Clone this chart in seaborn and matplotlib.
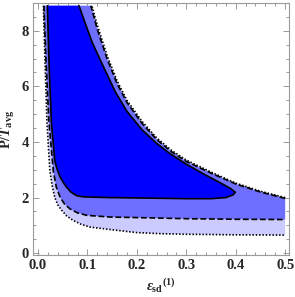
import numpy as np
import pandas as pd
import matplotlib
matplotlib.use("Agg")
import matplotlib.pyplot as plt
import seaborn as sns

# ---- contour boundaries (x = eps_sd^(1), y = P/T_avg) ----
# outer (dotted) region
outer_lo_x = [0.011, 0.014, 0.018, 0.024, 0.029, 0.034, 0.040, 0.048, 0.058, 0.071, 0.087, 0.105, 0.146, 0.200, 0.250, 0.300, 0.400, 0.500]
outer_lo_y = [8.90, 7.00, 4.75, 2.96, 2.40, 2.00, 1.74, 1.54, 1.34, 1.18, 1.04, 0.94, 0.85, 0.74, 0.70, 0.68, 0.66, 0.65]
outer_up_x = [0.500, 0.450, 0.400, 0.350, 0.300, 0.270, 0.240, 0.210, 0.180, 0.160, 0.140, 0.120, 0.109]
outer_up_y = [2.00, 2.23, 2.52, 2.92, 3.35, 3.70, 4.15, 4.75, 5.50, 6.20, 7.10, 8.20, 8.90]

# middle (dashed) region
mid_lo_x = [0.012, 0.016, 0.022, 0.031, 0.037, 0.045, 0.054, 0.065, 0.080, 0.099, 0.146, 0.227, 0.300, 0.400, 0.500]
mid_lo_y = [8.90, 7.00, 4.75, 2.96, 2.38, 2.00, 1.76, 1.59, 1.45, 1.36, 1.30, 1.27, 1.24, 1.22, 1.21]
mid_up_x = [0.500, 0.450, 0.400, 0.350, 0.300, 0.270, 0.240, 0.210, 0.180, 0.160, 0.140, 0.120, 0.107]
mid_up_y = [1.97, 2.20, 2.49, 2.88, 3.30, 3.65, 4.09, 4.68, 5.42, 6.10, 6.98, 8.05, 8.90]

# inner (solid) region
inner_lo_x = [0.019, 0.022, 0.027, 0.034, 0.039, 0.045, 0.052, 0.058, 0.067, 0.078, 0.090, 0.100, 0.146, 0.227, 0.300, 0.350, 0.380, 0.395, 0.399]
inner_lo_y = [8.90, 7.00, 4.70, 3.32, 3.00, 2.73, 2.52, 2.37, 2.19, 2.07, 2.03, 2.02, 2.00, 1.98, 1.96, 1.96, 2.00, 2.10, 2.19]
inner_up_x = [0.399, 0.390, 0.370, 0.335, 0.300, 0.267, 0.240, 0.210, 0.180, 0.156, 0.130, 0.109, 0.095, 0.083]
inner_up_y = [2.19, 2.32, 2.52, 2.85, 3.20, 3.58, 3.95, 4.45, 5.10, 5.82, 6.80, 7.61, 8.30, 8.90]

x_ticks = [0.0, 0.1, 0.2, 0.3, 0.4, 0.5]
x_ticklabels = ["0.0", "0.1", "0.2", "0.3", "0.4", "0.5"]
y_ticks = [0, 2, 4, 6, 8]
y_ticklabels = ["0", "2", "4", "6", "8"]

c_light = "#cbcbff"
c_mid = "#6e6eff"
c_inner = "#0000ff"
frame_c = "#9a9a9a"

sns.set_theme(style="white")
plt.rcParams["font.family"] = ["Liberation Serif", "DejaVu Serif"]
plt.rcParams["mathtext.fontset"] = "custom"
plt.rcParams["mathtext.rm"] = "Liberation Serif:bold"
plt.rcParams["mathtext.it"] = "Liberation Serif:italic:bold"
plt.rcParams["mathtext.bf"] = "Liberation Serif:bold"

fig = plt.figure(figsize=(2.95, 2.97), dpi=100)
ax = fig.add_axes([0.112, 0.141, 0.868, 0.849])

regions = [
    (outer_lo_x, outer_lo_y, outer_up_x, outer_up_y, c_light, (0, (0.9, 1.1))),
    (mid_lo_x, mid_lo_y, mid_up_x, mid_up_y, c_mid, (0, (3.5, 1.6))),
    (inner_lo_x, inner_lo_y, inner_up_x, inner_up_y, c_inner, "-"),
]

for lx, ly, ux, uy, col, ls in regions:
    ax.fill(list(lx) + list(ux), list(ly) + list(uy), color=col, lw=0, zorder=1)

for lx, ly, ux, uy, col, ls in regions:
    for xs, ys in ((lx, ly), (ux, uy)):
        df = pd.DataFrame({"x": xs, "y": ys})
        sns.lineplot(data=df, x="x", y="y", sort=False, estimator=None,
                     color="black", lw=1.2, linestyle=ls, ax=ax, zorder=3)

ax.set_xlim(-0.010, 0.508)
ax.set_ylim(-0.07, 8.98)
ax.set_xticks(x_ticks)
ax.set_xticklabels(x_ticklabels)
ax.set_yticks(y_ticks)
ax.set_yticklabels(y_ticklabels)
ax.set_xticks(np.arange(0, 0.51, 0.02), minor=True)
ax.set_yticks(np.arange(0, 9.01, 0.5), minor=True)

for s in ax.spines.values():
    s.set_color(frame_c)
    s.set_linewidth(0.8)
ax.tick_params(which="both", direction="in", top=True, right=True, bottom=True, left=True,
               color=frame_c, width=0.7)
ax.tick_params(which="major", length=4, labelsize=10.5, pad=3)
ax.tick_params(which="minor", length=2)
for lab in ax.get_xticklabels() + ax.get_yticklabels():
    lab.set_fontweight("bold")

ax.set_xlabel(r"${\epsilon_{\mathrm{sd}}}^{\mathrm{(1)}}$", fontsize=10.5, labelpad=3)
ax.set_ylabel(r"$\mathrm{P}/T_{\mathrm{avg}}$", fontsize=10.5, labelpad=3)

fig.savefig("out.png", dpi=100)
